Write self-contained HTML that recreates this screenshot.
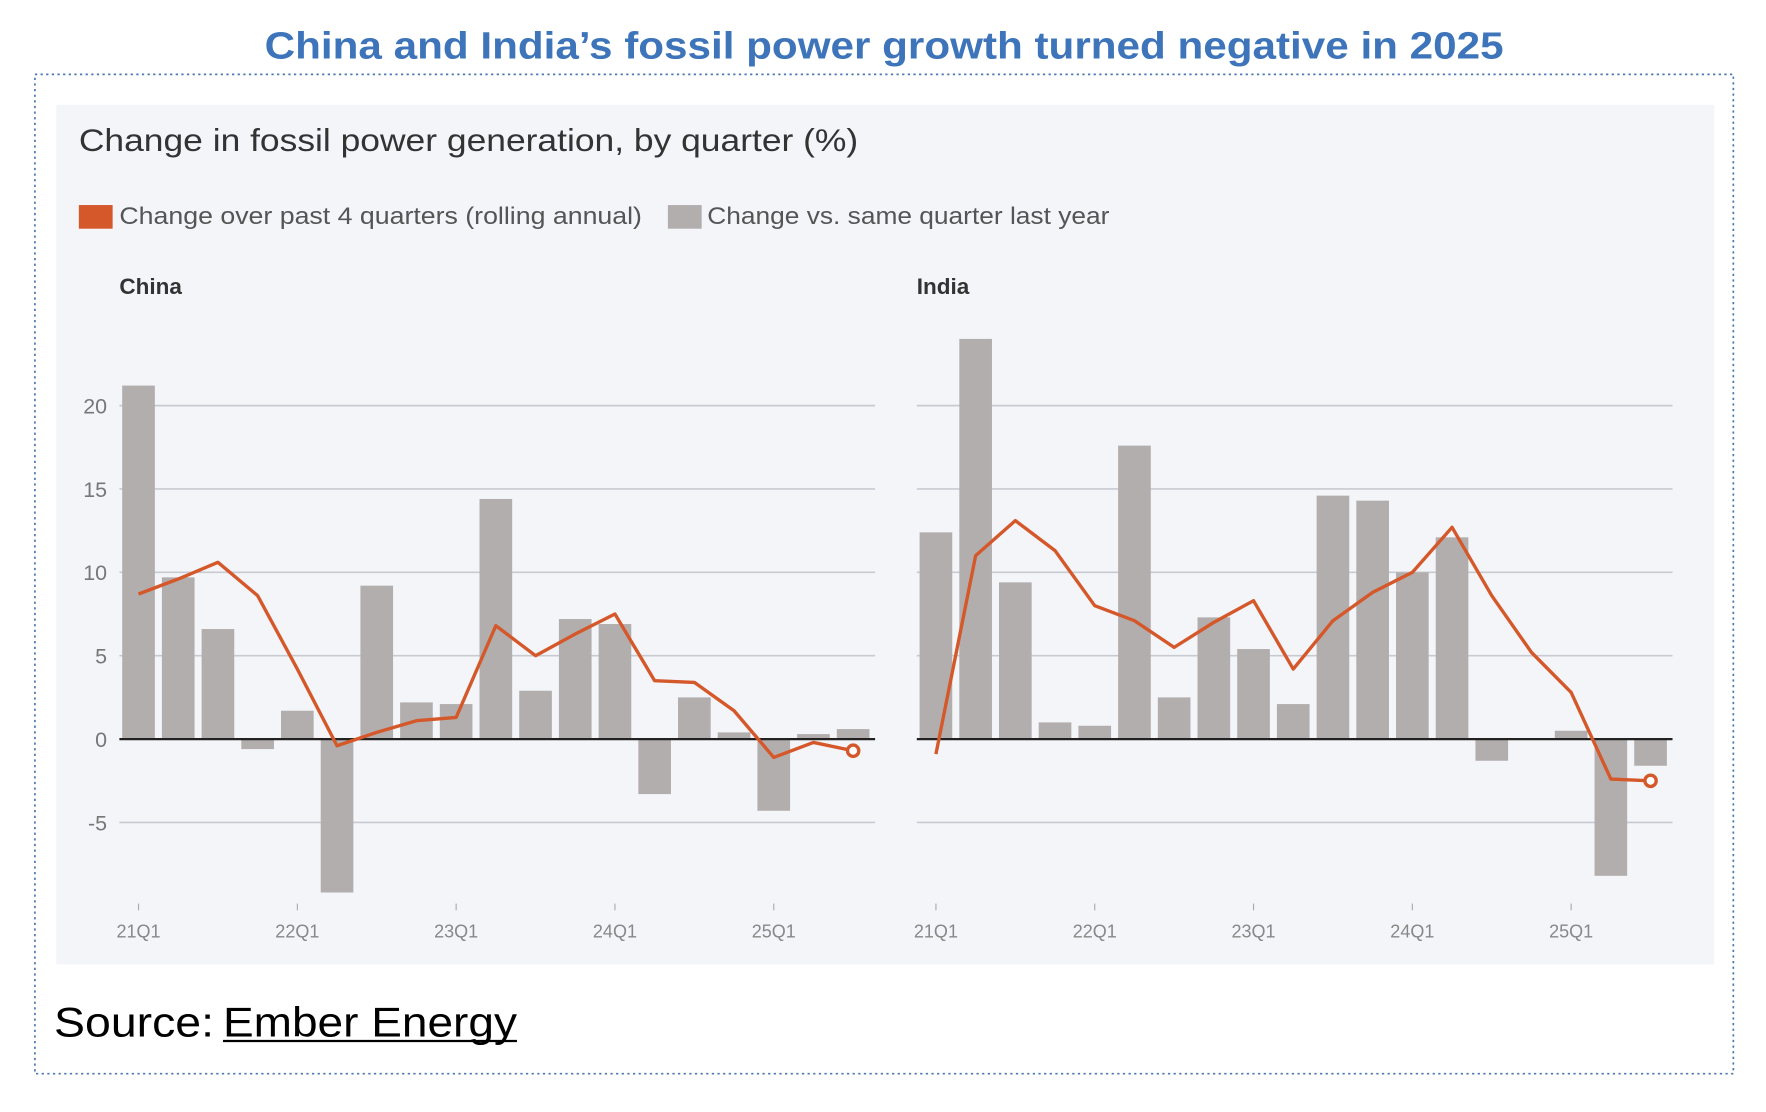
<!DOCTYPE html>
<html><head><meta charset="utf-8">
<style>
html,body{margin:0;padding:0;background:#fff;}
svg{display:block;}
text{font-family:"Liberation Sans",sans-serif;}
</style></head>
<body>
<svg id="s" width="1766" height="1112" viewBox="0 0 1568 987" preserveAspectRatio="none" xmlns="http://www.w3.org/2000/svg">
<rect x="0" y="0" width="1568" height="987" fill="#fff"/>
<text x="235" y="52" textLength="1100" lengthAdjust="spacingAndGlyphs" font-size="34" font-weight="bold" fill="#3d74ba">China and India’s fossil power growth turned negative in 2025</text>
<rect x="31" y="66" width="1508" height="887" fill="none" stroke="#4a78b0" stroke-width="1.5" stroke-dasharray="2,3"/>
<rect x="50" y="93" width="1472" height="763" fill="#f4f5f9"/>
<text x="70" y="134" textLength="692" lengthAdjust="spacingAndGlyphs" font-size="28" fill="#333">Change in fossil power generation, by quarter (%)</text>
<rect x="70" y="182" width="30" height="21" fill="#d4582a"/>
<text x="106" y="199" textLength="464" lengthAdjust="spacingAndGlyphs" font-size="21" fill="#555">Change over past 4 quarters (rolling annual)</text>
<rect x="593" y="182" width="30" height="21" fill="#b3aeae"/>
<text x="628" y="199" textLength="357" lengthAdjust="spacingAndGlyphs" font-size="21" fill="#555">Change vs. same quarter last year</text>
<text x="106" y="261" font-size="20" font-weight="bold" fill="#333">China</text>
<text x="814" y="261" font-size="20" font-weight="bold" fill="#333">India</text>
<g font-size="19" fill="#777" text-anchor="end">
<text x="95" y="367">20</text><text x="95" y="441">15</text><text x="95" y="515">10</text>
<text x="95" y="589">5</text><text x="95" y="663">0</text><text x="95" y="737">-5</text>
</g>
<g id="g"></g>
<g font-size="16" fill="#888" text-anchor="middle">
<text x="123" y="832">21Q1</text><text x="264" y="832">22Q1</text><text x="405" y="832">23Q1</text><text x="546" y="832">24Q1</text><text x="687" y="832">25Q1</text>
<text x="831" y="832">21Q1</text><text x="972" y="832">22Q1</text><text x="1113" y="832">23Q1</text><text x="1254" y="832">24Q1</text><text x="1395" y="832">25Q1</text>
</g>
<text x="48" y="920" textLength="142" lengthAdjust="spacingAndGlyphs" font-size="37" fill="#000">Source:</text>
<text x="198" y="920" textLength="261" lengthAdjust="spacingAndGlyphs" font-size="37" fill="#000">Ember Energy</text>
<line x1="198" y1="924" x2="459" y2="924" stroke="#000" stroke-width="2"/>
</svg>
<script>
var g=document.getElementById('g'),NS='http://www.w3.org/2000/svg';
function el(t,a){var e=document.createElementNS(NS,t);for(var k in a)e.setAttribute(k,a[k]);g.appendChild(e);return e;}
function Y(v){return 656-v*14.8;}
function panel(x0,x1,start,bars,line){
 [20,15,10,5,-5].forEach(function(v){el('line',{x1:x0,x2:x1,y1:Y(v),y2:Y(v),stroke:'#c8cad2','stroke-width':1.5});});
 bars.forEach(function(v,i){if(v==null)return;var cx=start+i*35.25;el('rect',{x:cx-14.5,y:Math.min(Y(v),656),width:29,height:Math.abs(v*14.8),fill:'#b3aeae'});});
 el('line',{x1:x0,x2:x1,y1:656,y2:656,stroke:'#222','stroke-width':2});
 for(var i=0;i<19;i+=4){var cx=start+i*35.25;el('line',{x1:cx,x2:cx,y1:802,y2:808,stroke:'#aaa','stroke-width':1});}
 var p=line.map(function(v,i){return (start+i*35.25)+','+Y(v);}).join(' ');
 el('polyline',{points:p,fill:'none',stroke:'#d4582a','stroke-width':3,'stroke-linejoin':'round'});
 var n=line.length-1;el('circle',{cx:start+n*35.25,cy:Y(line[n]),r:5,fill:'#fff',stroke:'#d4582a','stroke-width':3});
}
panel(106,777,123,[21.2,9.7,6.6,-0.6,1.7,-9.2,9.2,2.2,2.1,14.4,2.9,7.2,6.9,-3.3,2.5,0.4,-4.3,0.3,0.6],
[8.7,9.6,10.6,8.6,4.2,-0.4,0.4,1.1,1.3,6.8,5.0,6.3,7.5,3.5,3.4,1.7,-1.1,-0.2,-0.7]);
panel(814,1485,831,[12.4,24.0,9.4,1.0,0.8,17.6,2.5,7.3,5.4,2.1,14.6,14.3,10.0,12.1,-1.3,null,0.5,-8.2,-1.6],
[-0.9,11.0,13.1,11.3,8.0,7.1,5.5,7.0,8.3,4.2,7.1,8.8,10.0,12.7,8.6,5.2,2.8,-2.4,-2.5]);
</script>
</body></html>
